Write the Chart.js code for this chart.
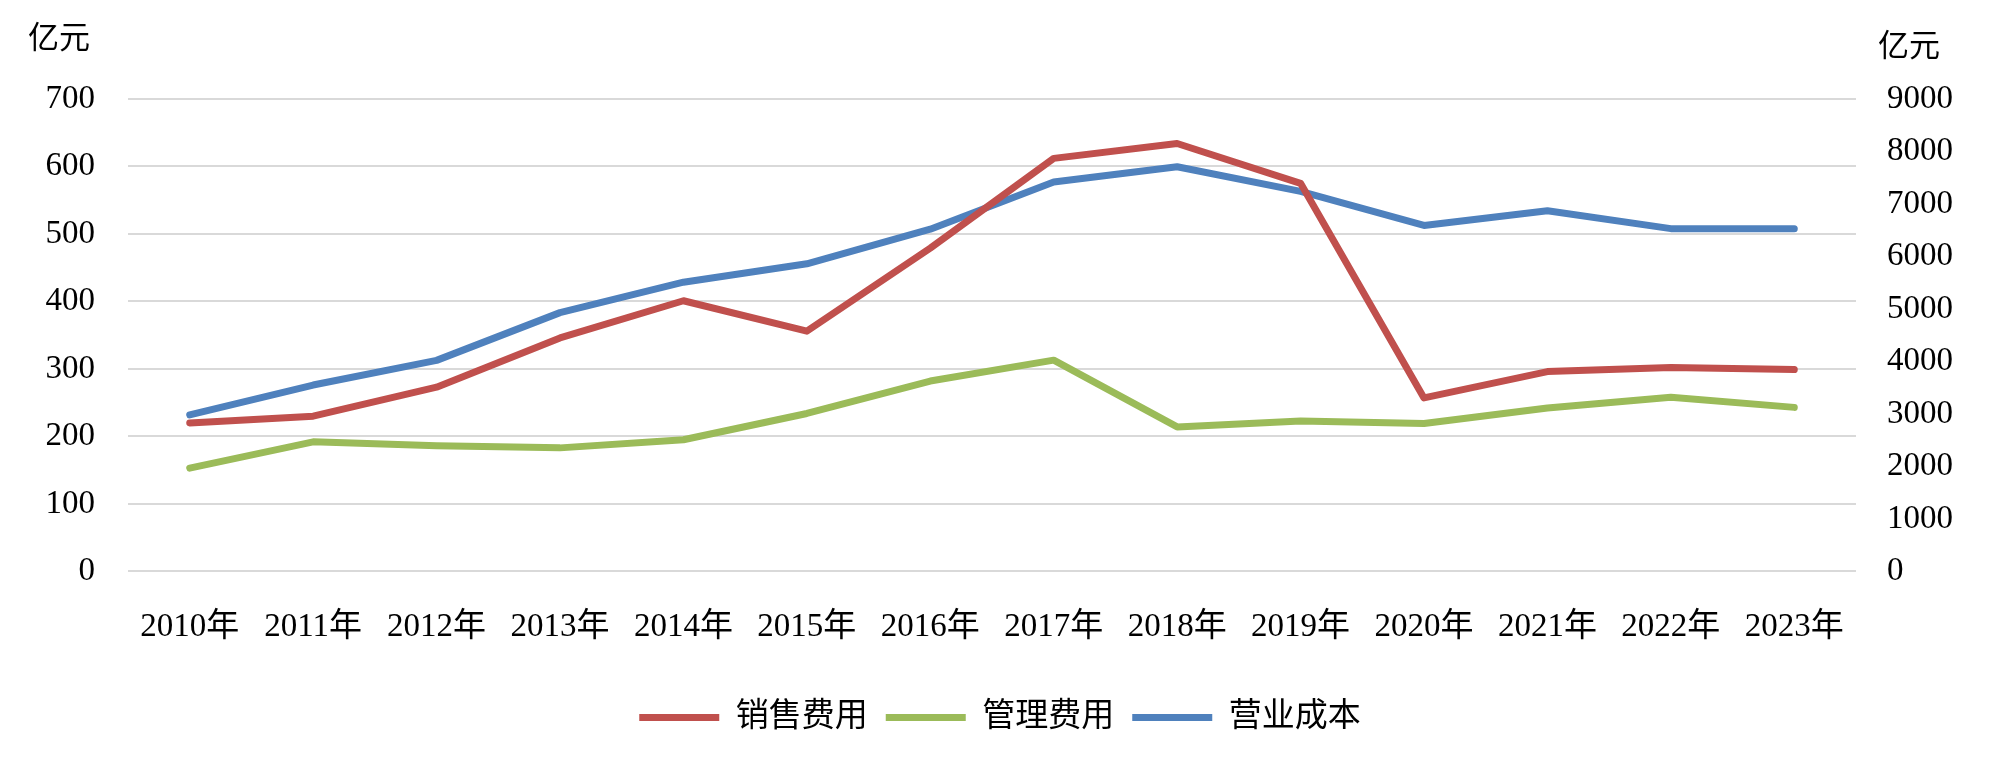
<!DOCTYPE html>
<html>
<head>
<meta charset="utf-8">
<script src="https://cdn.jsdelivr.net/npm/chart.js@4/dist/chart.umd.min.js"></script>
<style>
  html, body { margin: 0; padding: 0; background: #fff; }
  #wrap { width: 2000px; height: 768px; }
</style>
</head>
<body>
<div id="wrap"><canvas id="chart" width="2000" height="768"></canvas></div>
<script>
  // 数据（读图估算）
  const years = ['2010年', '2011年', '2012年', '2013年', '2014年', '2015年', '2016年',
                 '2017年', '2018年', '2019年', '2020年', '2021年', '2022年', '2023年'];
  const salesExpense = [220, 230, 273, 346, 401, 356, 479, 612, 634, 575, 257, 296, 302, 299];
  const adminExpense = [153, 192, 186, 183, 195, 234, 282, 313, 214, 223, 219, 242, 258, 243];
  const operatingCost = [2980, 3550, 4020, 4930, 5510, 5860, 6520, 7420, 7710, 7240, 6590, 6870, 6530, 6530];
  const unitLabel = '亿元';

  const FONT = "'Liberation Serif', 'Times New Roman', 'Noto Sans CJK SC', serif";

  // 两侧单位标注
  const unitPlugin = {
    id: 'unitLabels',
    afterDraw(chart) {
      const ctx = chart.ctx;
      ctx.save();
      ctx.font = '31px ' + FONT;
      ctx.fillStyle = '#000';
      ctx.textBaseline = 'middle';
      ctx.textAlign = 'left';
      ctx.fillText(unitLabel, 28, 40);
      ctx.fillText(unitLabel, 1878, 48);
      ctx.restore();
    }
  };

  function line(label, data, color, axis) {
    return {
      label, data, yAxisID: axis,
      borderColor: color, backgroundColor: color,
      borderWidth: 7, borderCapStyle: 'round', borderJoinStyle: 'round',
      pointRadius: 0, pointHoverRadius: 0, tension: 0, fill: false,
      pointStyle: 'line'
    };
  }

  new Chart(document.getElementById('chart'), {
    type: 'line',
    data: {
      labels: years,
      datasets: [
        line('销售费用', salesExpense, '#C0504D', 'y'),
        line('管理费用', adminExpense, '#9BBB59', 'y'),
        line('营业成本', operatingCost, '#4F81BD', 'y1')
      ]
    },
    options: {
      responsive: false,
      animation: false,
      layout: { padding: { top: 99, bottom: 24, left: 0, right: 0 } },
      plugins: {
        tooltip: { enabled: false },
        legend: {
          position: 'bottom',
          labels: {
            usePointStyle: true,
            pointStyleWidth: 80,
            boxHeight: 33,
            padding: 18,
            color: '#000',
            font: { size: 33, family: FONT }
          }
        }
      },
      scales: {
        x: {
          offset: true,
          grid: { display: false, drawTicks: false },
          border: { display: false },
          ticks: { color: '#000', padding: 38, maxRotation: 0, font: { size: 33, lineHeight: 1.08, family: FONT } }
        },
        y: {
          position: 'left',
          min: 0, max: 700,
          afterFit(s) { s.width = 128; },
          grid: { color: '#D9D9D9', lineWidth: 2, drawTicks: false },
          border: { display: false },
          ticks: { stepSize: 100, color: '#000', padding: 33, font: { size: 33, family: FONT } }
        },
        y1: {
          position: 'right',
          min: 0, max: 9000,
          afterFit(s) { s.width = 144; },
          grid: { display: false, drawTicks: false },
          border: { display: false },
          ticks: { stepSize: 1000, color: '#000', padding: 31, font: { size: 33, family: FONT },
                   callback: v => String(v) }
        }
      }
    },
    plugins: [unitPlugin]
  });
</script>
</body>
</html>
